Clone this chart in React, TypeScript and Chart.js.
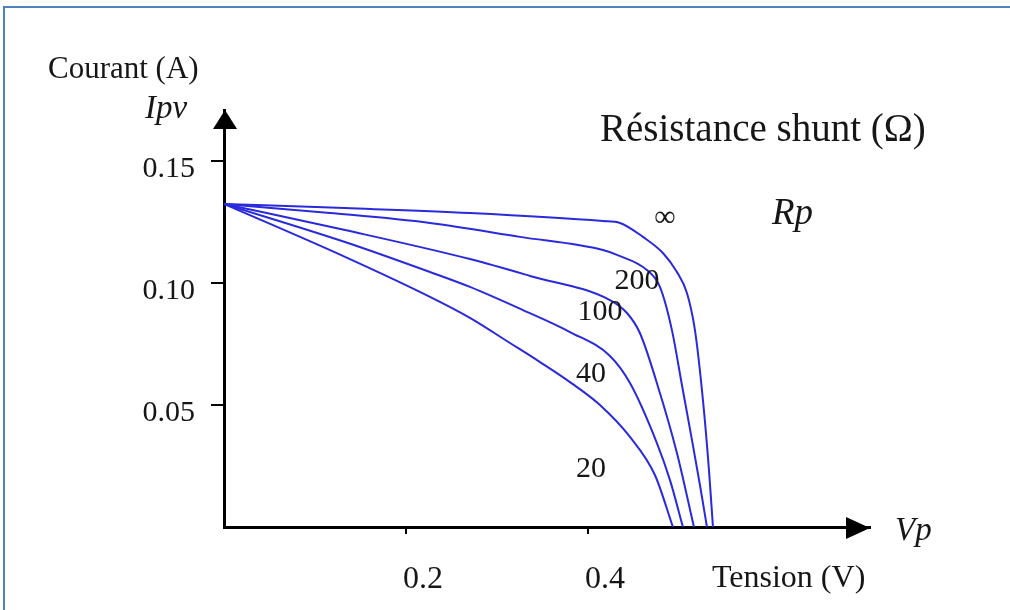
import React, { useEffect, useRef } from 'react';
import { Chart, registerables } from 'chart.js';

Chart.register(...registerables);

// Shunt resistance labels (Ω) for each I-V curve
const resistances = ['∞', '200', '100', '40', '20'];

// Voltage (V) and current (A) samples, per curve
const vInf = [0, 0.133, 0.2703, 0.4165, 0.4352, 0.4604, 0.4824, 0.4978, 0.5088, 0.5176, 0.5264, 0.533, 0.5374];
const iInf = [0.1324, 0.1307, 0.1287, 0.1254, 0.1246, 0.1189, 0.1123, 0.1045, 0.0959, 0.0807, 0.052, 0.0234, 0];

const v200 = [0, 0.1165, 0.2264, 0.3253, 0.4165, 0.4319, 0.4648, 0.4791, 0.4923, 0.5033, 0.5143, 0.5231, 0.5308];
const i200 = [0.1324, 0.1287, 0.1246, 0.1189, 0.1135, 0.1115, 0.1053, 0.0984, 0.0807, 0.0582, 0.0357, 0.0172, 0];

const v100 = [0, 0.133, 0.2703, 0.3363, 0.4242, 0.4429, 0.4571, 0.4791, 0.4978, 0.5165];
const i100 = [0.1324, 0.1217, 0.1098, 0.1029, 0.093, 0.0877, 0.0795, 0.0549, 0.0303, 0];

const v40 = [0, 0.133, 0.2264, 0.2703, 0.3286, 0.3802, 0.4242, 0.4462, 0.4758, 0.4901, 0.5044];
const i40 = [0.1324, 0.1168, 0.1045, 0.0984, 0.0889, 0.0799, 0.0701, 0.059, 0.0344, 0.0193, 0];

const v20 = [0, 0.133, 0.2264, 0.2703, 0.3143, 0.3473, 0.3802, 0.4132, 0.4462, 0.4736, 0.4934];
const i20 = [0.1324, 0.1107, 0.0943, 0.0857, 0.0754, 0.0676, 0.0594, 0.05, 0.0369, 0.0213, 0];

// Curve label anchor positions (data coordinates)
const labelV = [0.4846, 0.4538, 0.4132, 0.4033, 0.4033];
const labelI = [0.1266, 0.1008, 0.0881, 0.0627, 0.0238];

// Axis ticks
const xTickValues = [0.2, 0.4];
const xTickLabels = ['0.2', '0.4'];
const yTickValues = [0.05, 0.1, 0.15];
const yTickLabels = ['0.05', '0.10', '0.15'];

const X_MAX = 0.71;
const Y_MAX = 0.1709;

const SERIF = '"Liberation Serif", "Times New Roman", serif';
const LINE_COLOR = '#2a2adc';
const TEXT_COLOR = '#161616';

const curves = [
  { v: vInf, i: iInf },
  { v: v200, i: i200 },
  { v: v100, i: i100 },
  { v: v40, i: i40 },
  { v: v20, i: i20 },
];

const overlayPlugin = {
  id: 'overlay',
  afterDraw(chart: any) {
    const { ctx, chartArea: a, scales } = chart;
    const xs = scales.x;
    const ys = scales.y;
    const x0 = xs.getPixelForValue(0);
    const y0 = ys.getPixelForValue(0);
    ctx.save();
    ctx.fillStyle = '#000';
    // y-axis arrow head
    ctx.beginPath();
    ctx.moveTo(x0 + 1, a.top);
    ctx.lineTo(x0 - 11, a.top + 19);
    ctx.lineTo(x0 + 13, a.top + 19);
    ctx.closePath();
    ctx.fill();
    // x-axis arrow head
    ctx.beginPath();
    ctx.moveTo(a.right, y0 + 1);
    ctx.lineTo(a.right - 24, y0 - 10);
    ctx.lineTo(a.right - 24, y0 + 12);
    ctx.closePath();
    ctx.fill();

    ctx.fillStyle = TEXT_COLOR;
    ctx.textBaseline = 'middle';
    ctx.textAlign = 'left';
    // axis titles
    ctx.font = `31px ${SERIF}`;
    ctx.fillText('Courant (A)', a.left - 176, a.top - 40);
    ctx.font = `32px ${SERIF}`;
    ctx.fillText('Tension (V)', a.right - 158, a.bottom + 52);
    ctx.font = `39px ${SERIF}`;
    ctx.fillText('Résistance shunt (Ω)', a.right - 270, a.top + 21);
    // italic symbols
    ctx.font = `italic 33px ${SERIF}`;
    ctx.fillText('Ipv', a.left - 79, a.top - 1);
    ctx.font = `italic 37px ${SERIF}`;
    ctx.fillText('Rp', a.right - 98, a.top + 104);
    ctx.font = `italic 33px ${SERIF}`;
    ctx.fillText('Vp', a.right + 25, a.bottom + 4);

    // curve labels
    ctx.textAlign = 'center';
    ctx.font = `30px ${SERIF}`;
    resistances.forEach((r, k) => {
      const px = xs.getPixelForValue(labelV[k]);
      const py = ys.getPixelForValue(labelI[k]);
      ctx.fillText(r, px, py);
    });
    ctx.restore();
  },
};

export default function App() {
  const canvasRef = useRef<HTMLCanvasElement | null>(null);

  useEffect(() => {
    document.body.style.margin = '0';
    const canvas = canvasRef.current;
    if (!canvas) return;
    const chart = new Chart(canvas, {
      type: 'scatter',
      data: {
        datasets: curves.map((c, k) => ({
          label: resistances[k],
          data: c.v.map((v, j) => ({ x: v, y: c.i[j] })),
          showLine: true,
          borderColor: LINE_COLOR,
          borderWidth: 2,
          pointRadius: 0,
          cubicInterpolationMode: 'monotone' as const,
          fill: false,
        })),
      },
      options: {
        animation: false,
        responsive: false,
        devicePixelRatio: 1,
        layout: { padding: { left: 0, top: 110, right: 140, bottom: 0 } },
        plugins: {
          legend: { display: false },
          tooltip: { enabled: false },
          title: { display: false },
        },
        scales: {
          x: {
            type: 'linear',
            min: 0,
            max: X_MAX,
            position: 'bottom',
            afterFit: (s: any) => {
              s.height = 83;
            },
            afterBuildTicks: (s: any) => {
              s.ticks = xTickValues.map((v) => ({ value: v }));
            },
            border: { display: true, color: '#000', width: 3 },
            grid: {
              drawOnChartArea: false,
              drawTicks: true,
              tickLength: 7,
              tickColor: '#000',
              tickWidth: 2,
              lineWidth: 2,
            },
            ticks: {
              color: TEXT_COLOR,
              font: { family: SERIF, size: 32 },
              padding: 26,
              labelOffset: 17,
              maxRotation: 0,
              autoSkip: false,
              callback: (_v: any, idx: number) => xTickLabels[idx],
            },
          },
          y: {
            type: 'linear',
            min: 0,
            max: Y_MAX,
            position: 'left',
            afterFit: (s: any) => {
              s.width = 224;
            },
            afterBuildTicks: (s: any) => {
              s.ticks = yTickValues.map((v) => ({ value: v }));
            },
            border: { display: true, color: '#000', width: 3 },
            grid: {
              drawOnChartArea: false,
              drawTicks: true,
              tickLength: 13,
              tickColor: '#000',
              tickWidth: 2,
              lineWidth: 2,
            },
            ticks: {
              color: TEXT_COLOR,
              font: { family: SERIF, size: 30 },
              padding: 16,
              labelOffset: 8,
              autoSkip: false,
              callback: (_v: any, idx: number) => yTickLabels[idx],
            },
          },
        },
      },
      plugins: [overlayPlugin],
    });
    return () => chart.destroy();
  }, []);

  return (
    <div style={{ position: 'relative', width: 1010, height: 610, background: '#fff', overflow: 'hidden' }}>
      <canvas ref={canvasRef} width={1010} height={610} style={{ display: 'block', width: 1010, height: 610 }} />
      <div
        style={{
          position: 'absolute',
          left: 3,
          top: 6,
          width: 1020,
          height: 620,
          borderTop: '2px solid #4f81bd',
          borderLeft: '2px solid #4f81bd',
          pointerEvents: 'none',
        }}
      />
    </div>
  );
}
